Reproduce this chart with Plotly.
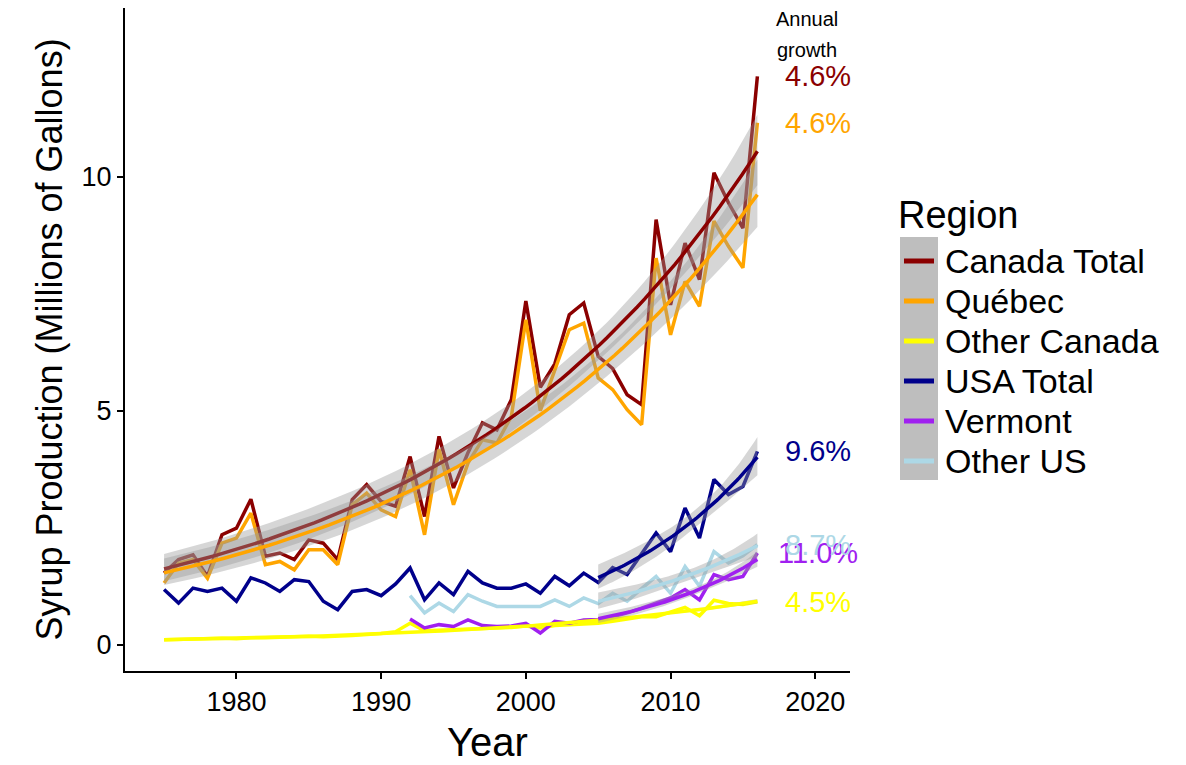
import numpy as np
import plotly.graph_objects as go

# ---------------- data (millions of gallons) ----------------
years_all = list(range(1975, 2017))
years_us = list(range(1992, 2017))

canada_total = [1.53, 1.82, 1.92, 1.46, 2.35, 2.49, 3.11, 1.89, 1.96, 1.82,
                2.24, 2.17, 1.82, 3.10, 3.42, 3.06, 2.96, 4.02, 2.74, 4.45,
                3.35, 4.10, 4.74, 4.59, 5.24, 7.34, 5.50, 6.00, 7.05, 7.30,
                6.16, 5.90, 5.34, 5.13, 9.08, 7.26, 8.58, 7.80, 10.08, 9.44,
                8.90, 12.14]
quebec = [1.32, 1.74, 1.82, 1.42, 2.17, 2.28, 2.81, 1.71, 1.78, 1.60,
          2.03, 2.03, 1.71, 2.99, 3.24, 2.88, 2.74, 3.74, 2.35, 4.17,
          2.99, 3.88, 4.38, 4.31, 4.88, 6.94, 5.00, 5.87, 6.73, 6.87,
          5.70, 5.45, 5.02, 4.70, 8.26, 6.62, 7.76, 7.23, 9.05, 8.51,
          8.05, 11.15]
other_canada = [0.11, 0.12, 0.12, 0.13, 0.14, 0.13, 0.15, 0.15, 0.16, 0.17,
                0.18, 0.17, 0.18, 0.20, 0.22, 0.24, 0.28, 0.46, 0.30, 0.31,
                0.32, 0.34, 0.35, 0.36, 0.37, 0.40, 0.36, 0.41, 0.43, 0.45,
                0.46, 0.50, 0.55, 0.60, 0.60, 0.70, 0.80, 0.62, 0.95, 0.88,
                0.86, 0.92]
usa_total = [1.18, 0.89, 1.21, 1.14, 1.21, 0.93, 1.43, 1.32, 1.14, 1.39,
             1.35, 0.93, 0.75, 1.14, 1.18, 1.05, 1.30, 1.64, 0.96, 1.32,
             1.07, 1.57, 1.32, 1.21, 1.21, 1.30, 1.10, 1.46, 1.26, 1.53,
             1.33, 1.65, 1.50, 1.96, 2.39, 1.99, 2.92, 2.28, 3.53, 3.21,
             3.38, 4.13]
vermont = [0.55, 0.36, 0.43, 0.39, 0.53, 0.41, 0.39, 0.40, 0.46, 0.25,
           0.50, 0.46, 0.53, 0.54, 0.60, 0.68, 0.78, 0.89, 1.00, 1.18,
           0.96, 1.50, 1.39, 1.46, 1.96]
other_us = [1.05, 0.68, 0.89, 0.71, 1.07, 0.93, 0.82, 0.82, 0.82, 0.82,
            0.96, 0.82, 1.00, 0.88, 1.10, 0.93, 1.20, 1.46, 1.10, 1.67,
            1.25, 1.99, 1.75, 1.90, 2.14]

regions = ["Canada Total", "Québec", "Other Canada", "USA Total", "Vermont", "Other US"]
colors = ["#8B0000", "#FFA500", "#FFFF00", "#00008B", "#A020F0", "#ADD8E6"]
series_years = [years_all, years_all, years_all, years_all, years_us, years_us]
series_vals = [canada_total, quebec, other_canada, usa_total, vermont, other_us]
fit_start = [1975, 1975, 1975, 2005, 2005, 2005]
growth_labels = ["4.6%", "4.6%", "4.5%", "9.6%", "11.0%", "8.7%"]

y_ticks = [0, 5, 10]
x_ticks = [1980, 1990, 2000, 2010, 2020]

FONT = "Liberation Sans, Arial, sans-serif"


def exp_fit(xs, ys):
    """Gaussian GLM with log link (Gauss-Newton), 95% CI on link scale."""
    x = np.asarray(xs, float)
    y = np.asarray(ys, float)
    xc = x.mean()
    X = np.column_stack([np.ones_like(x), x - xc])
    beta = np.polyfit(x - xc, np.log(y), 1)[::-1].copy()
    for _ in range(100):
        mu = np.exp(X @ beta)
        J = X * mu[:, None]
        step = np.linalg.solve(J.T @ J, J.T @ (y - mu))
        beta = beta + step
        if np.max(np.abs(step)) < 1e-12:
            break
    mu = np.exp(X @ beta)
    J = X * mu[:, None]
    n = len(x)
    sigma2 = np.sum((y - mu) ** 2) / (n - 2)
    cov = sigma2 * np.linalg.inv(J.T @ J)
    grid = np.linspace(x.min(), x.max(), 80)
    G = np.column_stack([np.ones_like(grid), grid - xc])
    eta = G @ beta
    se = np.sqrt(np.einsum("ij,jk,ik->i", G, cov, G))
    z = 1.959964
    return grid, np.exp(eta), np.exp(eta - z * se), np.exp(eta + z * se)


fig = go.Figure()

# raw data lines
for name, col, xs, ys in zip(regions, colors, series_years, series_vals):
    fig.add_trace(go.Scatter(x=xs, y=ys, mode="lines", name=name,
                             line=dict(color=col, width=3.5), showlegend=False,
                             hoverinfo="x+y+name"))

# smooth fits with confidence ribbons
for name, col, xs, ys, fs in zip(regions, colors, series_years, series_vals, fit_start):
    sel = [(x, y) for x, y in zip(xs, ys) if x >= fs]
    fx = [p[0] for p in sel]
    fy = [p[1] for p in sel]
    grid, mid, lo, hi = exp_fit(fx, fy)
    fig.add_trace(go.Scatter(x=np.concatenate([grid, grid[::-1]]),
                             y=np.concatenate([hi, lo[::-1]]),
                             fill="toself", fillcolor="rgba(153,153,153,0.4)",
                             line=dict(width=0), mode="lines",
                             showlegend=False, hoverinfo="skip"))
    fig.add_trace(go.Scatter(x=grid, y=mid, mode="lines",
                             line=dict(color=col, width=3.5),
                             showlegend=False, hoverinfo="skip"))

annotations = []
# growth labels at last value
for col, xs, ys, lab in zip(colors, series_years, series_vals, growth_labels):
    annotations.append(dict(x=2020.2, y=ys[-1], xref="x", yref="y", text=lab,
                            showarrow=False, xanchor="center", yanchor="middle",
                            font=dict(family=FONT, size=29, color=col)))
annotations.append(dict(x=2019.4, y=13.37, xref="x", yref="y", text="Annual",
                        showarrow=False, font=dict(family=FONT, size=20, color="black")))
annotations.append(dict(x=2019.4, y=12.7, xref="x", yref="y", text="growth",
                        showarrow=False, font=dict(family=FONT, size=20, color="black")))

# page has an 8px body margin: figure placed at (8, 8) in the window
OFF = 8
W, H = 1186 - OFF, 765 - OFF
# plot area in window pixels
L, R, T, B = 125.0, 850.0, 8.0, 671.0


def px(xp):
    return (xp - L) / (R - L)


def py(yp):
    return (B - yp) / (B - T)


shapes = [dict(type="rect", xref="paper", yref="paper",
               x0=px(900), x1=px(938), y0=py(480), y1=py(237),
               fillcolor="#BEBEBE", line=dict(width=0), layer="above")]
annotations.append(dict(x=px(896), y=py(215), xref="paper", yref="paper",
                        text="Region", showarrow=False, xanchor="left", yanchor="middle",
                        font=dict(family=FONT, size=38, color="black")))
for i, (name, col) in enumerate(zip(regions, colors)):
    yy = 261 + 40 * i
    shapes.append(dict(type="line", xref="paper", yref="paper",
                       x0=px(904), x1=px(934), y0=py(yy), y1=py(yy),
                       line=dict(color=col, width=5), layer="above"))
    annotations.append(dict(x=px(943), y=py(yy), xref="paper", yref="paper",
                            text=name, showarrow=False, xanchor="left", yanchor="middle",
                            font=dict(family=FONT, size=34, color="black")))

fig.update_layout(
    width=W, height=H,
    margin=dict(l=L - OFF, r=W - (R - OFF), t=T - OFF, b=H - (B - OFF)),
    paper_bgcolor="white", plot_bgcolor="white",
    font=dict(family=FONT, color="black"),
    showlegend=False,
    annotations=annotations,
    shapes=shapes,
)
fig.update_xaxes(range=[1972.3, 2022.4], tickvals=x_ticks, automargin=False,
                 showgrid=False, zeroline=False, showline=True,
                 linecolor="black", linewidth=2, ticks="outside",
                 ticklen=6, tickwidth=2, tickcolor="black",
                 tickfont=dict(family=FONT, size=27, color="black"),
                 title=dict(text="Year", font=dict(family=FONT, size=40, color="black"),
                            standoff=12))
fig.update_yaxes(range=[-0.56, 13.6], tickvals=y_ticks, automargin=False,
                 showgrid=False, zeroline=False, showline=True,
                 linecolor="black", linewidth=2, ticks="outside",
                 ticklen=6, tickwidth=2, tickcolor="black",
                 tickfont=dict(family=FONT, size=27, color="black"),
                 title=dict(text="Syrup Production (Millions of Gallons)",
                            font=dict(family=FONT, size=36, color="black"),
                            standoff=8))

fig.write_html("out.html")
